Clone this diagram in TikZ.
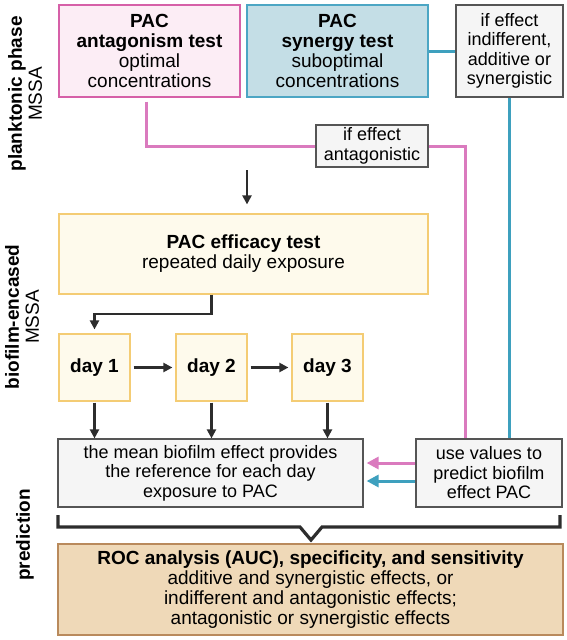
\documentclass[tikz,border=0pt]{standalone}
\usepackage{fontspec}
\setmainfont{Liberation Sans}
\usetikzlibrary{arrows.meta,calc}

\definecolor{antfill}{RGB}{252,237,245}
\definecolor{antdraw}{RGB}{214,96,168}
\definecolor{pinkline}{RGB}{218,122,190}
\definecolor{synfill}{RGB}{196,222,230}
\definecolor{syndraw}{RGB}{76,166,196}
\definecolor{blueline}{RGB}{62,160,190}
\definecolor{effill}{RGB}{254,250,236}
\definecolor{efdraw}{RGB}{244,204,116}
\definecolor{greyfill}{RGB}{245,245,245}
\definecolor{greydraw}{RGB}{85,85,85}
\definecolor{rocfill}{RGB}{239,217,184}
\definecolor{rocdraw}{RGB}{185,138,92}
\definecolor{arrgray}{RGB}{45,45,45}

\begin{document}
\begin{tikzpicture}[
  x=1pt,y=-1pt,
  box/.style={draw,line width=1.2pt,align=center,inner sep=0pt,font=\fontsize{19}{20}\selectfont},
  testbox/.style={box,minimum width=181pt,minimum height=92pt},
  effbox/.style={box,draw=efdraw,fill=effill},
  greybox/.style={box,draw=greydraw,fill=greyfill,font=\fontsize{18}{19.5}\selectfont},
  sidelabel/.style={align=center,rotate=90,font=\fontsize{19}{20}\selectfont},
  arr/.style={draw=arrgray,line width=2.2pt,-{Triangle[length=9pt,width=9pt]}},
  pinkln/.style={draw=pinkline,line width=3pt},
  blueln/.style={draw=blueline,line width=3pt},
  colarr/.style={line width=3pt,-{Triangle[length=12pt,width=12pt]},shorten >=3pt}]
  \fill[white](0,0)rectangle(567,640);
  \node[testbox,draw=antdraw,fill=antfill](antag) at(149.5,51){\textbf{PAC}\\\textbf{antagonism test}\\optimal\\concentrations};
  \node[testbox,draw=syndraw,fill=synfill](syn) at(337.5,51){\textbf{PAC}\\\textbf{synergy test}\\suboptimal\\concentrations};
  \node[greybox,minimum width=107pt,minimum height=92pt](indiff) at(509.5,51){if effect\\indifferent,\\additive or\\synergistic};
  \node[greybox,minimum width=112pt,minimum height=42pt](antlab) at(372,146){if effect\\antagonistic};
  \node[effbox,minimum width=369pt,minimum height=80pt](eff) at(243.5,254){\textbf{PAC efficacy test}\\repeated daily exposure};
  \node[effbox,minimum width=71pt,minimum height=67pt](day1) at(94.5,367.5){\textbf{day 1}};
  \node[effbox,minimum width=71pt,minimum height=67pt](day2) at(211.5,367.5){\textbf{day 2}};
  \node[effbox,minimum width=71pt,minimum height=67pt](day3) at(327.5,367.5){\textbf{day 3}};
  \node[greybox,minimum width=305pt,minimum height=68pt](mean) at(210.5,473){the mean biofilm effect provides\\the reference for each day\\exposure to PAC};
  \node[greybox,minimum width=146pt,minimum height=68pt](use) at(489,473){use values to\\predict biofilm\\effect PAC};
  \node[box,draw=rocdraw,fill=rocfill,minimum width=505pt,minimum height=91pt](roc) at(310.5,589.5){\textbf{ROC analysis (AUC), specificity, and sensitivity}\\additive and synergistic effects, or\\indifferent and antagonistic effects;\\antagonistic or synergistic effects};
  \node[sidelabel](plank) at(25,94){\textbf{planktonic phase}\\MSSA};
  \node[sidelabel](biof) at(22,317){\textbf{biofilm-encased}\\MSSA};
  \node[sidelabel](pred) at(25,535){\textbf{prediction}};
  \coordinate(flow) at(247,170);
  \draw[pinkln]([xshift=-3.5pt,yshift=-4pt]antag.south)|-(antlab.west);
  \draw[pinkln](antlab.east)-|([xshift=-24pt]use.north);
  \draw[blueln](syn.east)--(indiff.west);
  \draw[blueln](indiff.south)--(indiff.south|-use.north);
  \draw[arr,shorten >=9pt](flow)--(flow|-eff.north);
  \draw[arr,shorten >=4pt](eff.south-|day2)--++(0,19)-|(day1.north);
  \draw[arr,shorten <=3pt,shorten >=3pt](day1)--(day2);
  \draw[arr,shorten <=3pt,shorten >=3pt](day2)--(day3);
  \draw[arr,shorten <=1pt](day1)--(day1|-mean.north);
  \draw[arr,shorten <=1pt](day2)--(day2|-mean.north);
  \draw[arr,shorten <=1pt](day3)--(day3|-mean.north);
  \draw[colarr,pinkline]([yshift=10pt]use.west)--([yshift=10pt]mean.east);
  \draw[colarr,blueline]([yshift=-8pt]use.west)--([yshift=-8pt]mean.east);
  \draw[line width=3.2pt,draw=arrgray](58,515)--(58,527)--(300,527)--(311,540)--(322,527)--(560,527)--(560,515);
\end{tikzpicture}
\end{document}
